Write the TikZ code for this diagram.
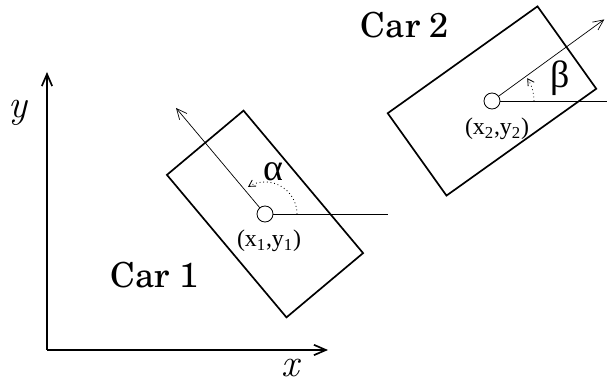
\documentclass[tikz,border=0pt]{standalone}
\usepackage{fontspec}
\newfontfamily\timesfont{Liberation Serif}
\newfontfamily\carfont{texgyreschola-regular.otf}
\usetikzlibrary{arrows.meta,calc}

\begin{document}
\begin{tikzpicture}[
    >={Straight Barb[length=3mm,width=2.6mm]},
    body/.style={line width=1.2pt},
    ray/.style={line width=0.5pt, ->, >={Straight Barb[length=2.6mm,width=2.4mm]}},
    turn/.style={dotted, line width=0.6pt, ->, >={Straight Barb[length=1.6mm,width=1.8mm]}},
    lbl/.style={font=\timesfont\fontsize{17}{17}\selectfont},
    greek/.style={font=\timesfont\fontsize{27}{27}\selectfont},
    axlbl/.style={inner sep=0pt, font=\itshape\fontsize{28}{28}\selectfont},
    carlbl/.style={font=\carfont\fontsize{24.5}{24.5}\selectfont}]
  \useasboundingbox (-1.175,-0.925) rectangle (14,8.75);

  % Axes
  \coordinate (O) at (0,0);
  \coordinate (xend) at (7.025,0);
  \coordinate (yend) at (0,6.95);
  \draw[line width=1.2pt, ->] (O) -- (xend);
  \draw[line width=1.2pt, ->] (O) -- (yend);
  \node[axlbl] (xlab) at (6.075,-0.45) {x};
  \node[axlbl] (ylab) at (-0.72,5.93) {y};

  % Car 1
  \coordinate (c1) at (5.45,3.4);
  \begin{scope}[shift={(c1)}, rotate=130]
    \draw[body] (-2.325,-1.25) rectangle (2.325,1.25);
  \end{scope}
  \draw[line width=0.6pt] (c1) circle (0.2);
  \draw[ray] ($(c1)+(130:0.2)$) -- ++(130:3.26);
  \draw[line width=0.6pt] ($(c1)+(0.2,0)$) -- ++(2.88,0);
  \draw[turn] ($(c1)+(0.8,0)$) arc (0:122:0.8);
  \node[greek] (alpha) at (5.65,4.45) {α};
  \node[lbl] (p1) at (5.55,2.725) {(x\textsubscript{1},y\textsubscript{1})};
  \node[carlbl] (car1) at (2.7,1.875) {Car 1};

  % Car 2
  \coordinate (c2) at (11.125,6.225);
  \begin{scope}[shift={(c2)}, rotate=35.5]
    \draw[body] (-2.3,-1.265) rectangle (2.3,1.265);
  \end{scope}
  \draw[line width=0.6pt] (c2) circle (0.2);
  \draw[ray] ($(c2)+(36:0.2)$) -- ++(36:3.27);
  \draw[line width=0.6pt] ($(c2)+(0.2,0)$) -- ++(2.7,0);
  \draw[turn] ($(c2)+(1.05,0)$) arc (0:33:1.05);
  \node[greek] (beta) at (12.825,6.8) {β};
  \node[lbl] (p2) at (11.25,5.525) {(x\textsubscript{2},y\textsubscript{2})};
  \node[carlbl] (car2) at (8.95,8.125) {Car 2};
\end{tikzpicture}
\end{document}
